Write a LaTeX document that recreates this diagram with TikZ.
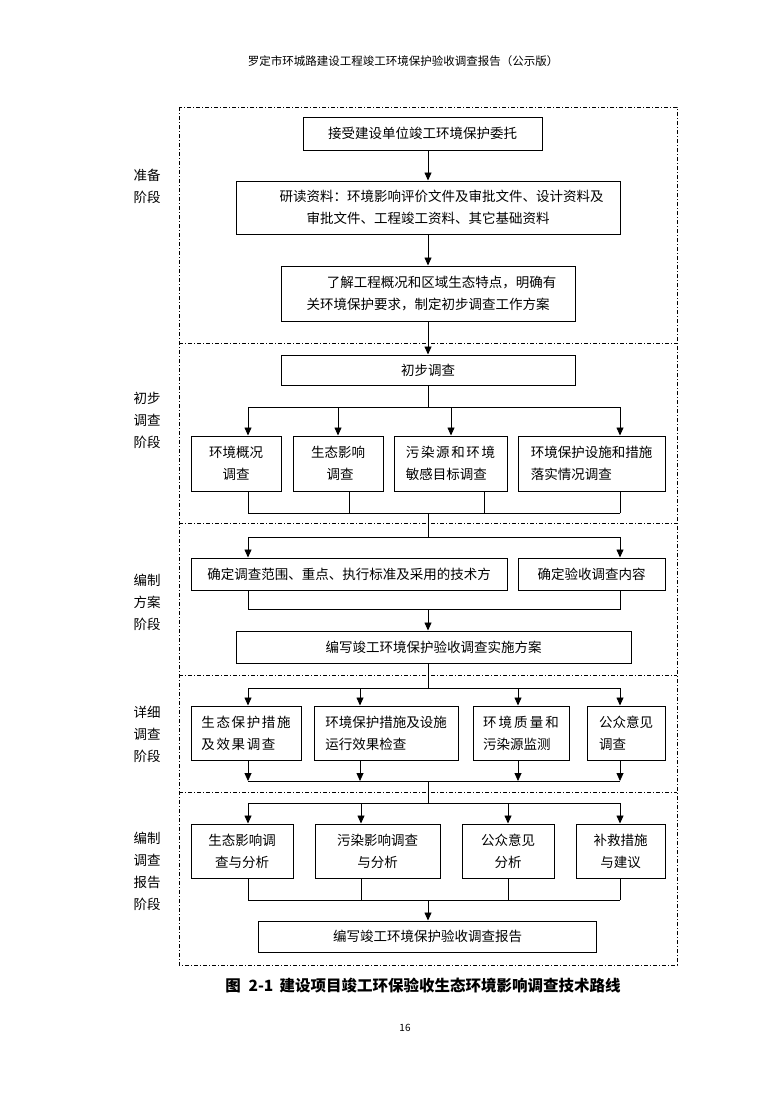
\documentclass[tikz,border=0pt]{standalone}
\usepackage{fontspec}
\setmainfont{Noto Sans CJK SC}
\usetikzlibrary{arrows.meta}
\begin{document}
\begin{tikzpicture}[x=1pt,y=-1pt,
  box/.style={draw, line width=1pt, inner sep=0pt, align=center, font=\fontsize{13.5}{22}\selectfont},
  lbl/.style={align=center, font=\fontsize{13.5}{22}\selectfont},
  conn/.style={line width=0.8pt},
  arr/.style={conn, -{Triangle[length=8pt,width=7pt]}},
  frame/.style={line width=0.6pt, dash pattern=on 4pt off 2pt on 1pt off 2pt}]
\useasboundingbox (0,0) rectangle (778,1100);
\fill[white] (0,0) rectangle (778,1100);

% header, caption, page number
\node[font=\fontsize{11.5}{14}\selectfont] (hdr) at (403,61) {罗定市环城路建设工程竣工环境保护验收调查报告（公示版）};
\node[font=\fontsize{15.5}{18}\selectfont\bfseries] (cap) at (423,986) {图\hspace{0.5em}2-1\hspace{0.4em}建设项目竣工环保验收生态环境影响调查技术路线};
\node[font=\fontsize{10}{12}\selectfont] (pg) at (405,1028) {16};

% frame and dividers
\draw[frame] (179,107) rectangle (677,965);
\foreach \yy in {343,523,675,792} \draw[frame] (179,\yy) -- (677,\yy);

% stage labels
\node[lbl] (l1) at (147,186) {准备\\阶段};
\node[lbl] (l2) at (147,420) {初步\\调查\\阶段};
\node[lbl] (l3) at (147,602) {编制\\方案\\阶段};
\node[lbl] (l4) at (147,734) {详细\\调查\\阶段};
\node[lbl] (l5) at (147,871) {编制\\调查\\报告\\阶段};

% section 1
\node[box, minimum width=239, minimum height=33] (b1) at (422.5,133.5) {接受建设单位竣工环境保护委托};
\node[box, minimum width=384, minimum height=53] (b2) at (428,207.5) {\hspace*{2em}研读资料：环境影响评价文件及审批文件、设计资料及\\审批文件、工程竣工资料、其它基础资料};
\node[box, minimum width=294, minimum height=55] (b3) at (428,293.5) {\hspace*{2em}了解工程概况和区域生态特点，明确有\\关环境保护要求，制定初步调查工作方案};

% section 2
\node[box, minimum width=294, minimum height=30] (b4) at (428,370) {初步调查};
\node[box, minimum width=90, minimum height=55] (A) at (236,463.5) {环境概况\\调查};
\node[box, minimum width=90, minimum height=55] (B) at (338,463.5) {生态影响\\\hspace*{0.3em}调查};
\node[box, minimum width=113, minimum height=55, align=left] (C) at (450.5,463.5) {污\hspace{0.12em}染\hspace{0.12em}源\hspace{0.12em}和\hspace{0.12em}环\hspace{0.12em}境\\敏感目标调查};
\node[box, minimum width=147, minimum height=55, align=left] (D) at (591.5,463.5) {环境保护设施和措施\\落实情况调查};

% section 3
\node[box, minimum width=316, minimum height=32] (b5) at (349,574) {确定调查范围、重点、执行标准及采用的技术方};
\node[box, minimum width=147, minimum height=32] (b6) at (591.5,574) {确定验收调查内容};
\node[box, minimum width=395, minimum height=32] (b7) at (433.5,647) {编写竣工环境保护验收调查实施方案};

% section 4
\node[box, minimum width=110, minimum height=54, align=left] (E) at (246,733) {生\hspace{0.12em}态\hspace{0.12em}保\hspace{0.12em}护\hspace{0.12em}措\hspace{0.12em}施\\及\hspace{0.12em}效\hspace{0.12em}果\hspace{0.12em}调\hspace{0.12em}查};
\node[box, minimum width=144, minimum height=54, align=left] (F) at (386,733) {环境保护措施及设施\\运行效果检查};
\node[box, minimum width=96, minimum height=54, align=left] (G) at (521,733) {环\hspace{0.15em}境\hspace{0.15em}质\hspace{0.15em}量\hspace{0.15em}和\\污染源监测};
\node[box, minimum width=78, minimum height=54, align=left] (H) at (626,733) {公众意见\\调查};

% section 5
\node[box, minimum width=102, minimum height=54] (I) at (242,851) {生态影响调\\查与分析};
\node[box, minimum width=125, minimum height=54] (J) at (377.5,851) {污染影响调查\\与分析};
\node[box, minimum width=92, minimum height=54] (K) at (508,851) {公众意见\\分析};
\node[box, minimum width=89, minimum height=54] (L) at (620.5,851) {补救措施\\与建议};
\node[box, minimum width=338, minimum height=31] (bf) at (427.5,936.5) {编写竣工环境保护验收调查报告};

% ---- connectors ----
\draw[arr] (b2.north |- b1.south) -- (b2.north);
\draw[arr] (b2.south) -- (b3.north);
\draw[arr] (b3.south) -- (b4.north);

\coordinate (h1) at (428,407);
\coordinate (t1a) at (248,407); \coordinate (t1b) at (338,407);
\coordinate (t1c) at (451,407); \coordinate (t1d) at (620,407);
\draw[conn] (b4.south) -- (h1);
\draw[conn] (t1a) -- (t1d);
\draw[arr] (t1a) -- (t1a |- A.north);
\draw[arr] (t1b) -- (t1b |- B.north);
\draw[arr] (t1c) -- (t1c |- C.north);
\draw[arr] (t1d) -- (t1d |- D.north);

\coordinate (u1a) at (248,513); \coordinate (u1b) at (349,513);
\coordinate (u1c) at (484,513); \coordinate (u1d) at (620,513);
\coordinate (h2) at (428,513); \coordinate (h3) at (428,537);
\draw[conn] (u1a |- A.south) -- (u1a);
\draw[conn] (u1b |- B.south) -- (u1b);
\draw[conn] (u1c |- C.south) -- (u1c);
\draw[conn] (u1d |- D.south) -- (u1d);
\draw[conn] (u1a) -- (u1d);
\draw[conn] (h2) -- (h3);

\coordinate (t2a) at (248,537); \coordinate (t2d) at (620,537);
\draw[conn] (t2a) -- (t2d);
\draw[arr] (t2a) -- (t2a |- b5.north);
\draw[arr] (t2d) -- (t2d |- b6.north);
\coordinate (u2a) at (248,609); \coordinate (u2d) at (620,609); \coordinate (h4) at (428,609);
\draw[conn] (u2a |- b5.south) -- (u2a) -- (u2d) -- (u2d |- b6.south);
\draw[arr] (h4) -- (h4 |- b7.north);

\coordinate (h5) at (428,688);
\draw[conn] (h5 |- b7.south) -- (h5);
\coordinate (t3a) at (248,688); \coordinate (t3b) at (360,688);
\coordinate (t3c) at (518,688); \coordinate (t3d) at (620,688);
\draw[conn] (t3a) -- (t3d);
\draw[arr] (t3a) -- (t3a |- E.north);
\draw[arr] (t3b) -- (t3b |- F.north);
\draw[arr] (t3c) -- (t3c |- G.north);
\draw[arr] (t3d) -- (t3d |- H.north);

\coordinate (u3a) at (248,781); \coordinate (u3b) at (360,781);
\coordinate (u3c) at (518,781); \coordinate (u3d) at (620,781);
\coordinate (h6) at (428,781); \coordinate (h7) at (428,803);
\draw[arr] (u3a |- E.south) -- (u3a);
\draw[arr] (u3b |- F.south) -- (u3b);
\draw[arr] (u3c |- G.south) -- (u3c);
\draw[arr] (u3d |- H.south) -- (u3d);
\draw[conn] (u3a) -- (u3d);
\draw[conn] (h6) -- (h7);

\coordinate (t4a) at (248,803); \coordinate (t4b) at (361,803);
\coordinate (t4c) at (508,803); \coordinate (t4d) at (620,803);
\draw[conn] (t4a) -- (t4d);
\draw[arr] (t4a) -- (t4a |- I.north);
\draw[arr] (t4b) -- (t4b |- J.north);
\draw[arr] (t4c) -- (t4c |- K.north);
\draw[arr] (t4d) -- (t4d |- L.north);

\coordinate (u4a) at (248,900); \coordinate (u4b) at (361,900);
\coordinate (u4c) at (508,900); \coordinate (u4d) at (620,900);
\coordinate (h8) at (428,900);
\draw[conn] (u4a |- I.south) -- (u4a);
\draw[conn] (u4b |- J.south) -- (u4b);
\draw[conn] (u4c |- K.south) -- (u4c);
\draw[conn] (u4d |- L.south) -- (u4d);
\draw[conn] (u4a) -- (u4d);
\draw[arr] (h8) -- (h8 |- bf.north);
\end{tikzpicture}
\end{document}
